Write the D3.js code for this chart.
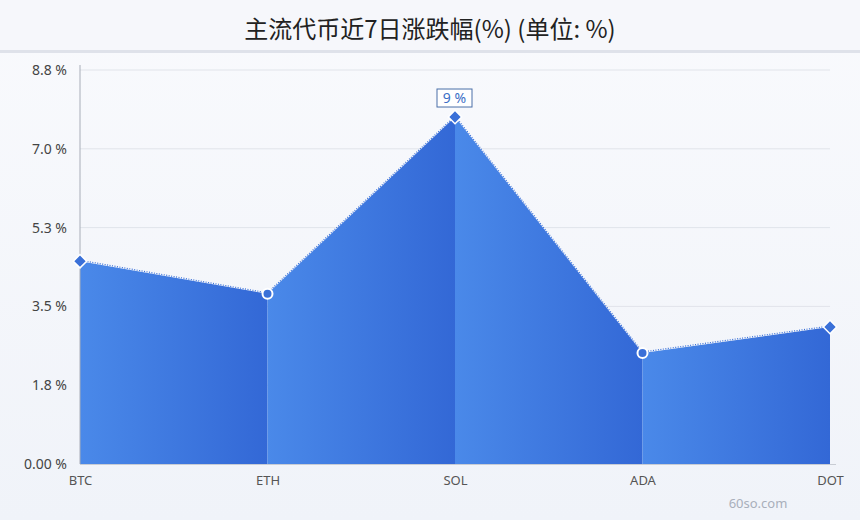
<!DOCTYPE html>
<html><head><meta charset="utf-8">
<script src="https://cdn.jsdelivr.net/npm/d3@7"></script>
<style>
html,body{margin:0;padding:0;}
body{width:860px;height:520px;overflow:hidden;background:#f3f5fa;font-family:"Noto Sans","Noto Sans CJK SC",sans-serif;}
</style></head><body>
<svg id="c" width="860" height="520"></svg>
<script>
const title = "主流代币近7日涨跌幅(%) (单位: %)";
const categories = ["BTC","ETH","SOL","ADA","DOT"];
const values = [4.53, 3.80, 7.75, 2.48, 3.06];
const markerTypes = ["diamond","circle","diamond","circle","diamond"];
const yTicks = [0, 1.76, 3.52, 5.28, 7.04, 8.8];
const yTickLabels = ["0.00 %","1.8 %","3.5 %","5.3 %","7.0 %","8.8 %"];
const peakLabel = "9 %";
const watermark = "60so.com";

const svg = d3.select("#c");
const W = 860, H = 520;
const m = {l:80, r:30, t:70, b:56};
const defs = svg.append("defs");

const bg = defs.append("linearGradient").attr("id","bg").attr("x1",0).attr("y1",0).attr("x2",0).attr("y2",1);
bg.append("stop").attr("offset","0%").attr("stop-color","#f9fafd");
bg.append("stop").attr("offset","100%").attr("stop-color","#f0f3f9");
svg.append("rect").attr("width",W).attr("height",H).attr("fill","url(#bg)");
svg.append("rect").attr("width",W).attr("height",50).attr("fill","#f6f7fb");
svg.append("rect").attr("y",50).attr("width",W).attr("height",3).attr("fill","#dfe2ea");
svg.append("text").attr("x",W/2).attr("y",38).attr("text-anchor","middle")
  .attr("font-family","'Noto Sans CJK SC',sans-serif").attr("font-size",24).attr("fill","#222").text(title);

const x = d3.scalePoint().domain(categories).range([m.l, W-m.r]);
const y = d3.scaleLinear().domain([0,8.8]).range([H-m.b, m.t]);

// grid
svg.append("g").selectAll("line").data(yTicks.slice(1)).join("line")
  .attr("x1",m.l).attr("x2",W-m.r).attr("y1",d=>y(d)).attr("y2",d=>y(d))
  .attr("stroke","#e1e4ea").attr("stroke-width",1);

// segment gradient
const g = defs.append("linearGradient").attr("id","seg").attr("x1",0).attr("y1",0).attr("x2",1).attr("y2",0);
g.append("stop").attr("offset","0%").attr("stop-color","#4a89e9");
g.append("stop").attr("offset","100%").attr("stop-color","#3368d6");

const pts = categories.map((c,i)=>({c, v:values[i], t:markerTypes[i]}));
const area = d3.area().x(d=>x(d.c)).y0(y(0)).y1(d=>y(d.v));
for (let i=0;i<pts.length-1;i++){
  svg.append("path").datum([pts[i],pts[i+1]]).attr("d",area)
    .attr("fill","url(#seg)");
}
const line = d3.line().x(d=>x(d.c)).y(d=>y(d.v));
svg.append("path").datum(pts).attr("d",line).attr("fill","none")
  .attr("stroke","#3a70d8").attr("stroke-width",1.2).attr("stroke-dasharray","1,1.5").attr("transform","translate(0,-1)");

// axes
svg.append("line").attr("x1",m.l).attr("x2",m.l).attr("y1",65).attr("y2",y(0)).attr("stroke","#a8adb8").attr("stroke-width",1);
svg.append("line").attr("x1",m.l).attr("x2",W-m.r+6).attr("y1",y(0)+0.5).attr("y2",y(0)+0.5).attr("stroke","#c8ccd4").attr("stroke-width",1);

const yAxis = d3.axisLeft(y).tickValues(yTicks).tickSize(0).tickPadding(13)
  .tickFormat((d,i)=>yTickLabels[i]);
const ya = svg.append("g").attr("transform",`translate(${m.l},0)`).call(yAxis);
ya.select(".domain").remove();
ya.selectAll("text").attr("font-size",14).attr("fill","#444").attr("font-family","'Noto Sans',sans-serif");

const xAxis = d3.axisBottom(x).tickSize(0).tickPadding(12);
const xa = svg.append("g").attr("transform",`translate(0,${y(0)})`).call(xAxis);
xa.select(".domain").remove();
xa.selectAll("text").attr("font-size",13).attr("fill","#555").attr("font-family","'Noto Sans',sans-serif");

// markers
const mk = svg.append("g");
pts.forEach(p=>{
  const cx = x(p.c), cy = y(p.v);
  if (p.t==="diamond"){
    mk.append("path").attr("d",d3.symbol(d3.symbolSquare,90)())
      .attr("transform",`translate(${cx},${cy}) rotate(45)`)
      .attr("fill","#3a70d8").attr("stroke","#ffffff").attr("stroke-width",1.5);
  } else {
    mk.append("circle").attr("cx",cx).attr("cy",cy).attr("r",5)
      .attr("fill","#3a70d8").attr("stroke","#ffffff").attr("stroke-width",2);
  }
});

// peak label
const pi = values.indexOf(d3.max(values));
const px = x(categories[pi]), py = y(values[pi]);
const lbl = svg.append("g");
lbl.append("rect").attr("x",px-18).attr("y",py-28).attr("width",35).attr("height",18)
  .attr("fill","#ffffff").attr("stroke","#4a6fa8").attr("stroke-width",1);
lbl.append("text").attr("x",px-0.5).attr("y",py-14).attr("text-anchor","middle")
  .attr("font-size",14).attr("fill","#3b6fc6").text(peakLabel);

svg.append("text").attr("x",758).attr("y",508).attr("text-anchor","middle")
  .attr("font-size",13).attr("fill","#a9afbb").text(watermark);
</script>
</body></html>
